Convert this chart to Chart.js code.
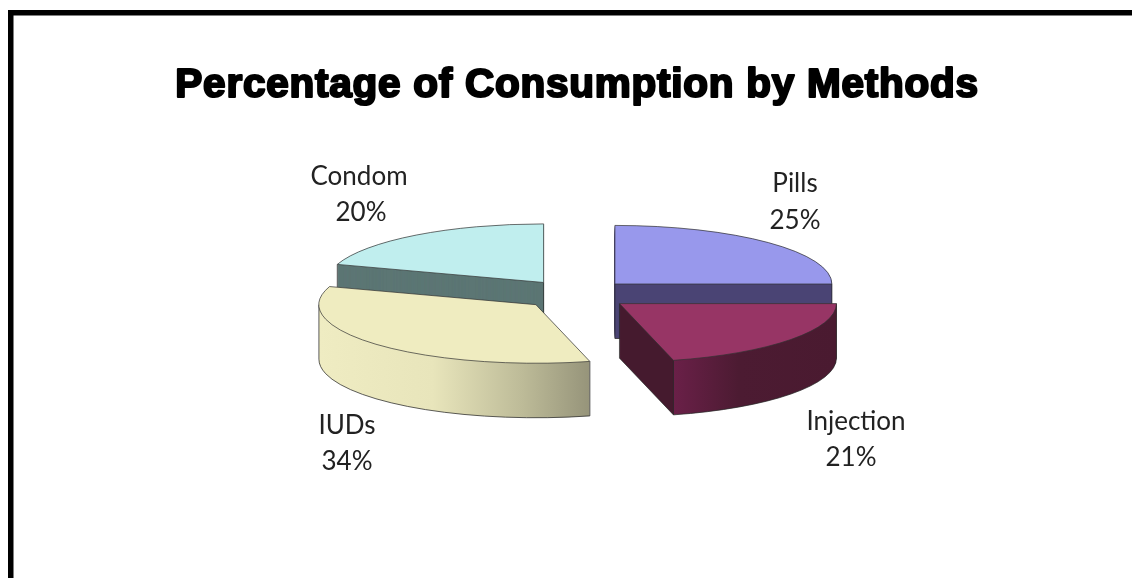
<!DOCTYPE html>
<html><head><meta charset="utf-8">
<style>html,body{margin:0;padding:0;background:#fff}canvas{display:block}</style>
<script src="https://cdn.jsdelivr.net/npm/chart.js@4/dist/chart.umd.min.js"></script>
</head><body><canvas id="c" width="1132" height="578"></canvas>
<script>
const categories = ["Pills", "Injection", "IUDs", "Condom"];
const shares = [25, 21, 34, 20];
const chartTitle = "Percentage of Consumption by Methods";

const topColors = ["#9898ec", "#973565", "#efecc0", "#c0eeee"];
const LABEL_POS = [[795,184],[856,422],[347,426],[359,176.5]];
const VALUE_POS = [[795,220.5],[851,458],[347,462],[361,213]];
const DRAW_ORDER = [3,0,2,1];
const CX=576, CY=294.5, SQUASH=0.27, EXPLODE=55, RADIUS=217, DEPTH=54.5;
const TITLE_FONT = {family:"Liberation Sans",weight:"bold",size:40.5};
const TITLE_SPACING = "0.75px";

function wallFill(ctx,i,x){
  if(i===0) return "#4a4574";
  if(i===3) return "#5c7674";
  if(i===2){
    const g=ctx.createLinearGradient(x-217,0,x+54,0);
    g.addColorStop(0,"#efecc2");g.addColorStop(.42,"#e8e5bb");
    g.addColorStop(.75,"#bdbb98");g.addColorStop(1,"#96947a");
    return g;
  }
  const g=ctx.createLinearGradient(x,0,x+217,0);
  g.addColorStop(0,"#451a2e");g.addColorStop(.248,"#451a2e");
  g.addColorStop(.25,"#6a2048");g.addColorStop(.55,"#4c1b32");g.addColorStop(1,"#4a1a30");
  return g;
}
function pie3d(chart){
  const ctx=chart.ctx, arcs=chart.getDatasetMeta(0).data;
  for(const i of DRAW_ORDER){
    const arc=arcs[i], mid=(arc.startAngle+arc.endAngle)/2;
    const ox=EXPLODE*Math.cos(mid), oy=EXPLODE*Math.sin(mid);
    const sx=CX+ox, sy=CY+SQUASH*oy, r=arc.outerRadius, ry=r*SQUASH;
    const place=(dy)=>{ctx.translate(CX,CY+dy);ctx.scale(1,SQUASH);ctx.translate(ox-arc.x,oy-arc.y);};
    const view=(opts)=>{const v=Object.create(arc);v.options=Object.assign({},arc.options,opts);return v;};
    // walls: the library's arc repeated downward
    ctx.save();place(0);const fill=wallFill(ctx,i,arc.x);ctx.restore();
    const wall=view({backgroundColor:fill,borderWidth:0,offset:0});
    for(let d=DEPTH;d>=0.5;d-=0.5){ctx.save();place(d);wall.draw(ctx);ctx.restore();}
    // wall outlines: only the parts that face the viewer
    ctx.save();ctx.strokeStyle="rgba(40,40,40,.75)";ctx.lineWidth=1;
    const from=Math.max(arc.startAngle,0), to=Math.min(arc.endAngle,Math.PI);
    if(to>from){ctx.beginPath();ctx.ellipse(sx,sy+DEPTH,r,ry,0,from,to);ctx.stroke();}
    if(arc.startAngle<=Math.PI&&arc.endAngle>=Math.PI){
      ctx.beginPath();ctx.moveTo(sx-r,sy);ctx.lineTo(sx-r,sy+DEPTH);ctx.stroke();
    }
    let apex=false;
    for(const a of [arc.startAngle,arc.endAngle]){
      const px=sx+r*Math.cos(a),py=sy+ry*Math.sin(a);
      let nx=-Math.sin(a),ny=Math.cos(a);
      if(nx*Math.cos(mid)+ny*Math.sin(mid)>0){nx=-nx;ny=-ny;}
      const cutVisible=ny>1e-6;
      if(cutVisible||Math.sin(a)>=-1e-6){
        ctx.beginPath();ctx.moveTo(px,py);ctx.lineTo(px,py+DEPTH);ctx.stroke();
      }
      if(cutVisible){
        apex=true;ctx.beginPath();ctx.moveTo(sx,sy+DEPTH);ctx.lineTo(px,py+DEPTH);ctx.stroke();
      }
    }
    if(apex){ctx.beginPath();ctx.moveTo(sx,sy);ctx.lineTo(sx,sy+DEPTH);ctx.stroke();}
    ctx.restore();
    // top face
    ctx.save();place(0);view({borderWidth:0,offset:0}).draw(ctx);ctx.restore();
    ctx.save();ctx.strokeStyle="rgba(50,50,50,.7)";ctx.lineWidth=1;ctx.lineJoin="round";
    ctx.beginPath();ctx.moveTo(sx,sy);ctx.ellipse(sx,sy,r,ry,0,arc.startAngle,arc.endAngle);ctx.closePath();ctx.stroke();ctx.restore();
  }
  // labels
  ctx.save();ctx.letterSpacing="0px";ctx.fillStyle="#222";ctx.font='26px Lato';ctx.textAlign="center";ctx.textBaseline="middle";
  categories.forEach((c,i)=>{
    ctx.fillText(c,LABEL_POS[i][0],LABEL_POS[i][1]);
    ctx.fillText(shares[i]+"%",VALUE_POS[i][0],VALUE_POS[i][1]);
  });
  ctx.restore();
  return false;
}
const frame={id:"frame",beforeDraw(chart){const c=chart.ctx;c.save();c.fillStyle="#fff";c.fillRect(0,0,1132,578);
  c.fillStyle="#000";c.fillRect(8,10,1124,5.5);c.fillRect(8,10,5.5,568);c.restore();c.letterSpacing=TITLE_SPACING;}};
const pie={id:"pie3d",beforeDatasetsDraw:pie3d};
// thickens the library's title so it reads like a black-weight face
const heavyTitle={id:"heavyTitle",afterDraw(chart){
  const t=chart.titleBlock,c=chart.ctx;c.save();c.letterSpacing=TITLE_SPACING;
  c.font=`${TITLE_FONT.weight} ${TITLE_FONT.size}px "${TITLE_FONT.family}"`;
  c.textAlign="center";c.textBaseline="middle";c.strokeStyle="#000";c.lineWidth=2.2;c.lineJoin="round";
  const y=t.top+t.options.padding.top+1.2*TITLE_FONT.size/2;
  c.strokeText(chartTitle,(t.left+t.right)/2,y);c.restore();}};
new Chart(document.getElementById("c"),{
  type:"pie",
  data:{labels:categories,datasets:[{data:shares,backgroundColor:topColors,borderWidth:0,radius:RADIUS}]},
  options:{responsive:false,animation:false,layout:{padding:{left:22}},
    plugins:{legend:{display:false},tooltip:{enabled:false},
      title:{display:true,text:chartTitle,color:"#000",font:TITLE_FONT,padding:{top:62,bottom:10}}}},
  plugins:[frame,pie,heavyTitle]
});
</script></body></html>
